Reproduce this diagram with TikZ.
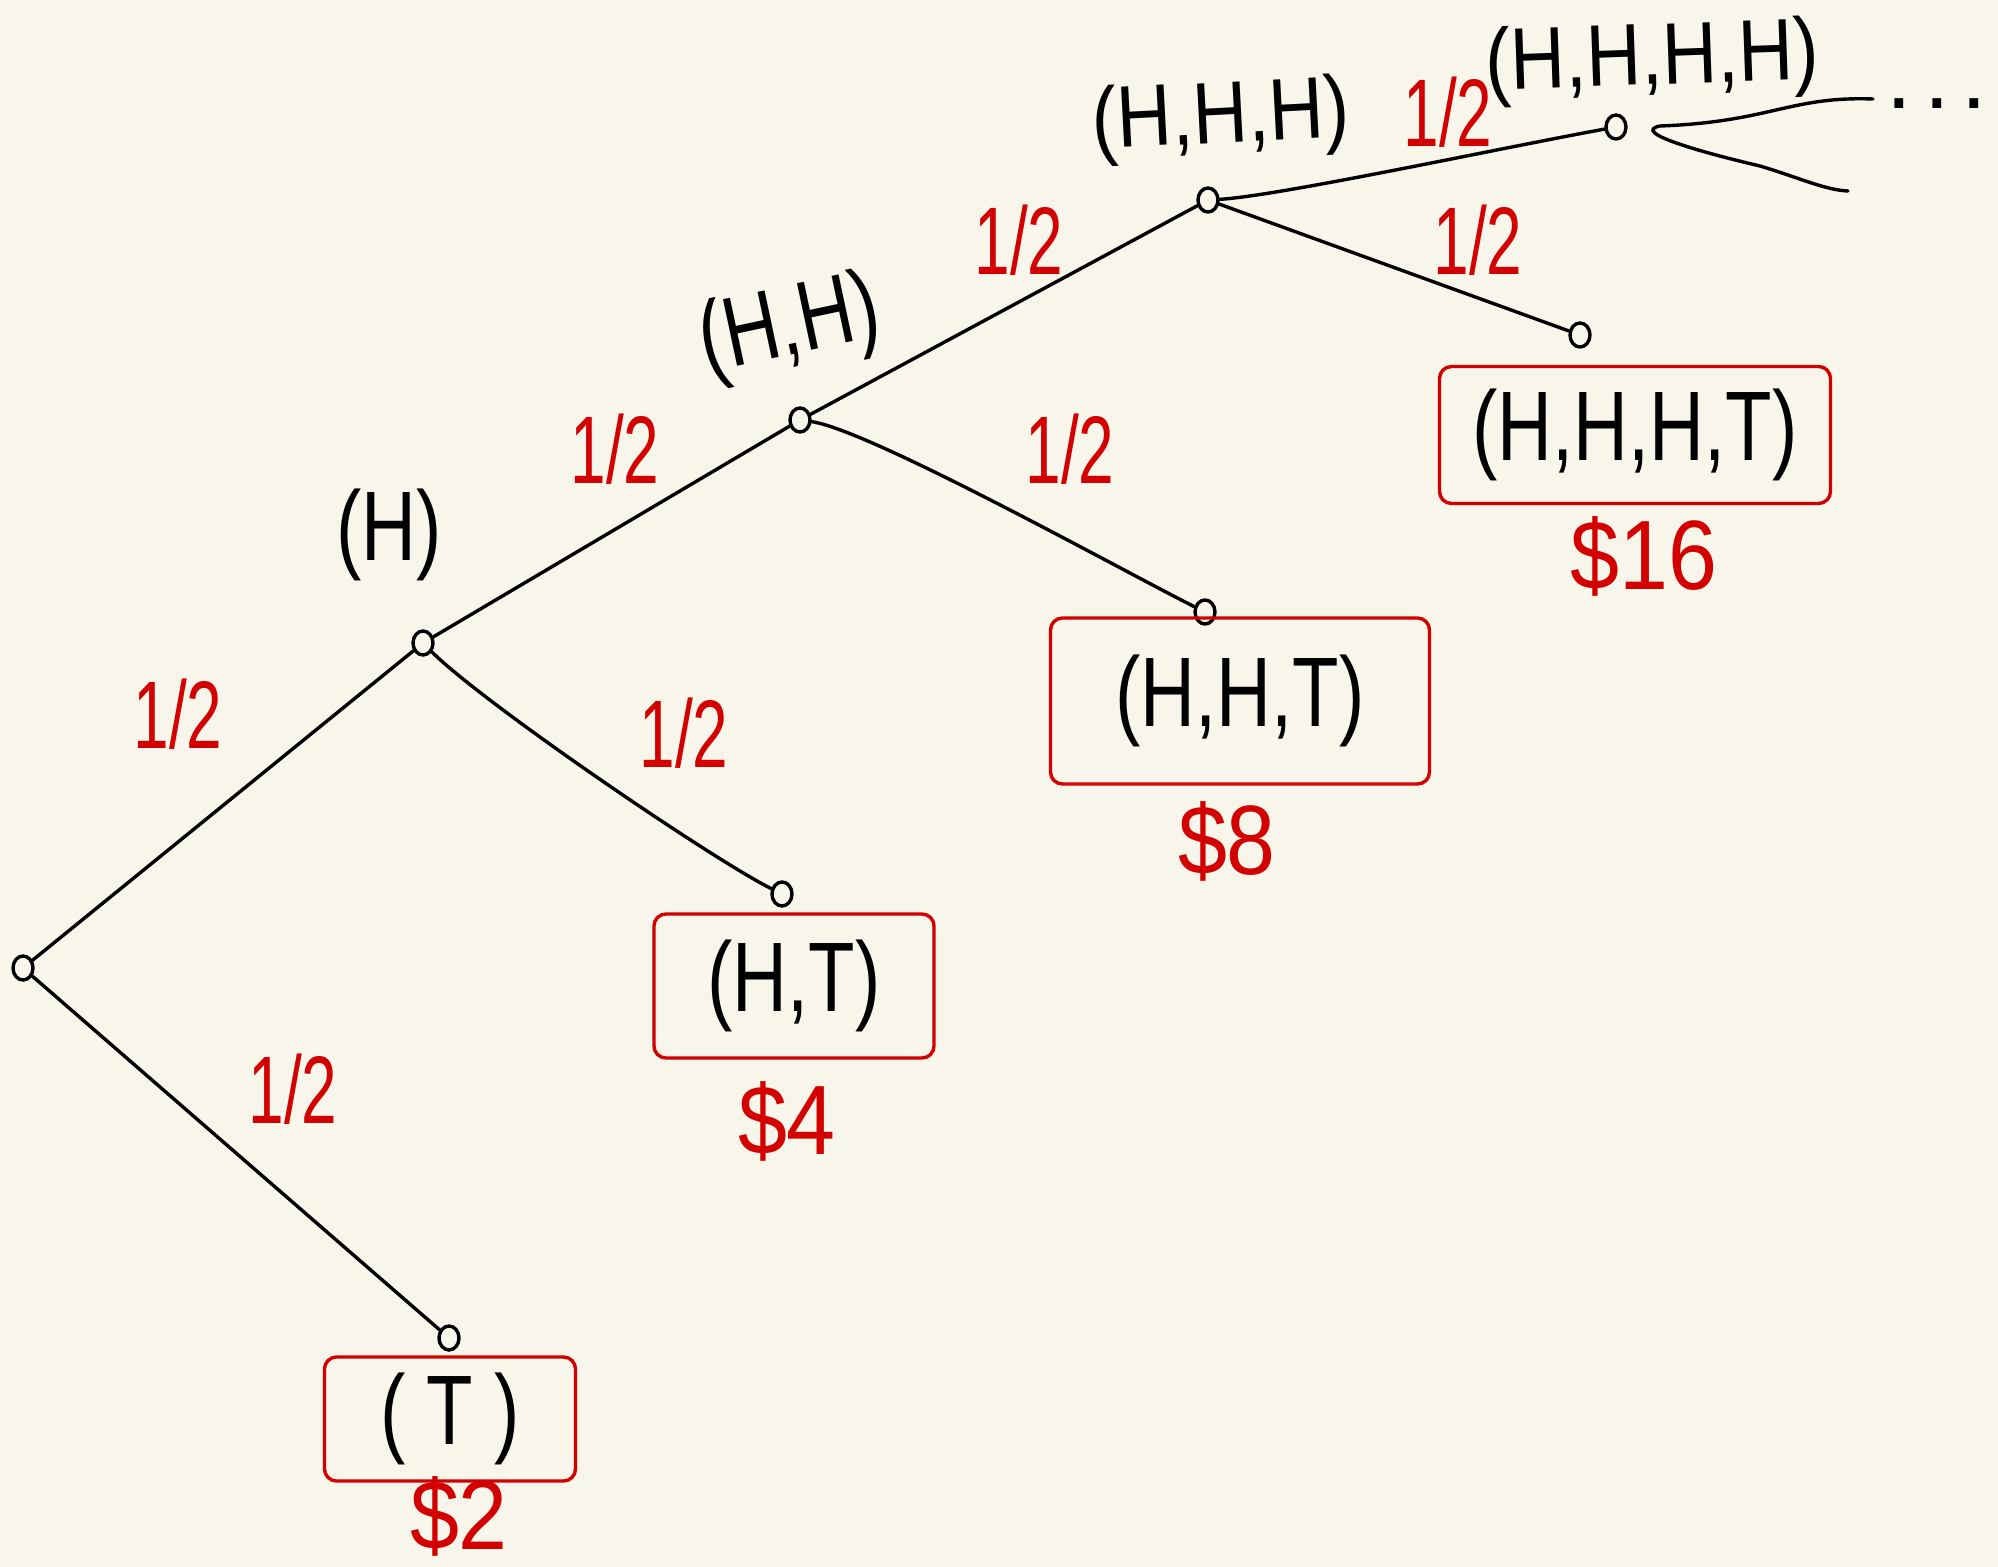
\documentclass[tikz,border=0pt]{standalone}
\usepackage{fontspec}
\setmainfont{Liberation Sans}
\usepackage{graphicx}
\usetikzlibrary{shapes.geometric}
\definecolor{bg}{HTML}{F8F6EA}
\definecolor{pen}{HTML}{D20000}
\newcommand{\tallT}[1]{\scalebox{1}[1.3]{#1}}
\newcommand{\tallS}[1]{\scalebox{1}[1.15]{#1}}
\newcommand{\tallH}[1]{\scalebox{1}[1.5]{#1}}
\newcommand{\tallP}[1]{\scalebox{1}[1.12]{#1}}
\begin{document}
\begin{tikzpicture}[x=0.5pt,y=-0.5pt,
  vert/.style={ellipse,draw,line width=1.7pt,inner sep=0pt,minimum width=10pt,minimum height=12pt},
  edge/.style={line width=1.7pt,black,line cap=round},
  tup/.style={text=black,font=\fontsize{38}{42}\selectfont,inner sep=0pt},
  leafbox/.style={draw=pen,line width=1.7pt,rounded corners=6pt,inner sep=0pt,text=black,font=\fontsize{38}{42}\selectfont},
  half/.style={text=pen,font=\fontsize{32}{36}\selectfont,inner sep=0pt},
  prize/.style={text=pen,font=\fontsize{44}{48}\selectfont,inner sep=0pt}]
\fill[bg] (0,0) rectangle (1998,1567);
\useasboundingbox (0,0) rectangle (1998,1567);

% tree vertices
\node[vert] (r) at (23,968) {};
\node[vert] (h) at (423,643) {};
\node[vert] (hh) at (800,420) {};
\node[vert] (hhh) at (1208,200) {};
\node[vert] (hhhh) at (1616,127) {};
\node[vert] (t) at (449,1338) {};
\node[vert] (ht) at (782,894) {};
\node[vert] (hht) at (1205,612) {};
\node[vert] (hhht) at (1580,335) {};

% edges
\draw[edge] (r) -- (h);
\draw[edge] (h) -- (hh);
\draw[edge] (hh) -- (hhh);
\draw[edge] (hhh) .. controls +(70,-4) and +(-120,22) .. (hhhh);
\draw[edge] (r) -- (t);
\draw[edge] (h) .. controls +(60,60) and +(-70,-35) .. (ht);
\draw[edge] (hh) .. controls +(70,10) and +(-80,-40) .. (hht);
\draw[edge] (hhh) -- (hhht);

% continuation
\coordinate (c0) at (1660,126);
\coordinate (c1) at (1873,99);
\coordinate (c2) at (1848,191);
\draw[edge] (c1) .. controls (1790,96) and (1770,122) .. (c0)
  .. controls (1630,132) and (1700,152) .. (1760,166)
  .. controls (1800,178) and (1825,190) .. (c2);
\node[tup,font=\fontsize{46}{50}\selectfont] (dots) at (1937,104) {.\hspace{6pt}.\hspace{6pt}.};

% labels of inner vertices
\node[tup] (lh) at (389,535) {\tallT{(H)}};
\node[tup,rotate=12] (lhh) at (790,329) {\tallT{(H,H)}};
\node[tup,rotate=3] (lhhh) at (1221,120) {\tallS{(H,H,H)}};
\node[tup,rotate=2] (lhhhh) at (1652,62) {\tallS{(H,H,H,H)}};

% leaf boxes
\node[leafbox,minimum width=125.5pt,minimum height=62pt] (bt) at (450,1419) {\tallT{( T )}};
\node[leafbox,minimum width=140pt,minimum height=72pt] (bht) at (794,986) {\tallT{(H,T)}};
\node[leafbox,minimum width=189.5pt,minimum height=83pt] (bhht) at (1240,701) {\tallT{(H,H,T)}};
\node[leafbox,minimum width=195.5pt,minimum height=68.5pt] (bhhht) at (1635,435) {\tallT{(H,H,H,T)}};

% prizes
\node[prize] (p2) at (459,1516) {\tallP{\$2}};
\node[prize] (p4) at (787,1121) {\tallP{\$4}};
\node[prize] (p8) at (1227,841) {\tallP{\$8}};
\node[prize] (p16) at (1644,556) {\tallP{\$16}};

% probabilities
\node[half] (q1) at (178,714) {\tallH{1/2}};
\node[half] (q2) at (293,1089) {\tallH{1/2}};
\node[half] (q3) at (615,449) {\tallH{1/2}};
\node[half] (q4) at (684,733) {\tallH{1/2}};
\node[half] (q5) at (1019,240) {\tallH{1/2}};
\node[half] (q6) at (1070,449) {\tallH{1/2}};
\node[half] (q7) at (1448,112) {\tallH{1/2}};
\node[half] (q8) at (1478,240) {\tallH{1/2}};
\end{tikzpicture}
\end{document}
